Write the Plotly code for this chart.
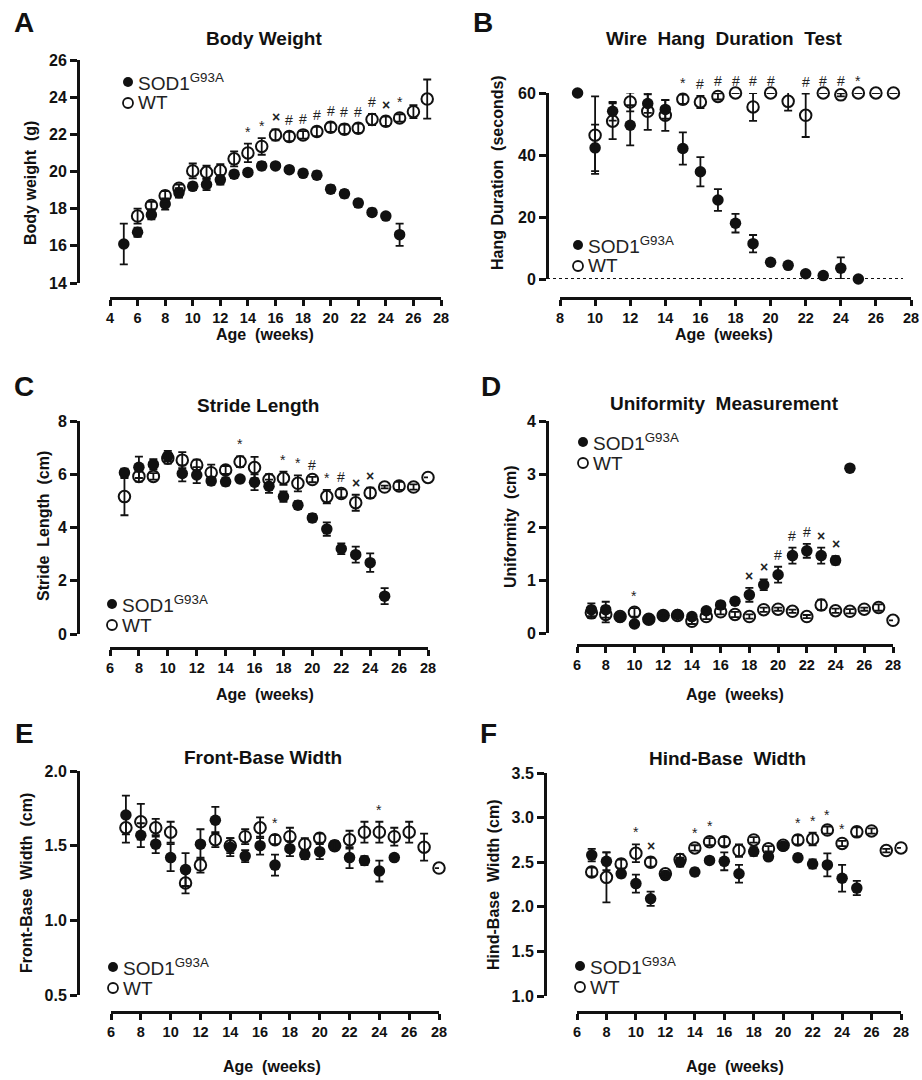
import plotly.graph_objects as go

W, H = 922, 1080
FONT = "Liberation Sans"

# ---------------- DATA ----------------
# Panel A: Body weight (g)
A_sod_x = list(range(5, 26))
A_sod_y = [16.1, 16.73, 17.67, 18.25, 18.85, 19.2, 19.3, 19.55, 19.85, 19.95, 20.3, 20.3, 20.1, 19.9, 19.8, 19.05, 18.8, 18.3, 17.8, 17.6, 16.6]
A_sod_e = [1.1, 0.25, 0.25, 0.3, 0.25, 0.2, 0.3, 0.25, 0.2, 0.15, 0.2, 0.15, 0.15, 0.2, 0.2, 0.2, 0.2, 0.2, 0.2, 0.1, 0.6]
A_wt_x = list(range(6, 28))
A_wt_y = [17.6, 18.17, 18.7, 19.1, 20.03, 19.96, 20.05, 20.68, 21.0, 21.35, 21.97, 21.88, 21.97, 22.15, 22.38, 22.28, 22.33, 22.8, 22.7, 22.88, 23.22, 23.9]
A_wt_e = [0.4, 0.2, 0.25, 0.2, 0.4, 0.35, 0.35, 0.4, 0.5, 0.45, 0.3, 0.25, 0.2, 0.25, 0.25, 0.25, 0.25, 0.3, 0.25, 0.2, 0.35, 1.05]
A_sig_x = [14, 15, 16, 17, 18, 19, 20, 21, 22, 23, 24, 25]
A_sig_t = ["*", "*", "×", "#", "#", "#", "#", "#", "#", "#", "×", "*"]

# Panel B: Wire hang duration (seconds)
B_sod_x = list(range(9, 26))
B_sod_y = [60, 42.3, 54.1, 49.6, 56.6, 54.7, 42.1, 34.6, 25.5, 18, 11.4, 5.4, 4.4, 1.7, 1.1, 3.5, 0]
B_sod_e = [0, 7.5, 3, 6.5, 3, 3, 5.2, 4.7, 3.5, 3, 2.8, 0.8, 0.8, 0.8, 0.5, 3.5, 0]
B_wt_x = list(range(10, 28))
B_wt_y = [46.4, 50.9, 57.1, 54.1, 52.8, 58, 57.1, 58.9, 60, 55.5, 60, 57.3, 52.8, 60, 59.4, 60, 60, 60]
B_wt_e = [12.5, 5.8, 3, 6, 5, 1.5, 2, 1, 0, 4.5, 0, 3, 7, 0, 0.5, 0, 0, 0]
B_sig_x = [15, 16, 17, 18, 19, 20, 21, 22, 23, 24, 25]
B_sig_t = ["*", "#", "#", "#", "#", "#", "#", "#", "#", "#", "*"]

# Panel C: Stride length (cm)
C_sod_x = list(range(7, 26))
C_sod_y = [6.06, 6.26, 6.37, 6.68, 6.03, 5.97, 5.75, 5.72, 5.82, 5.7, 5.55, 5.16, 4.84, 4.36, 3.94, 3.2, 2.98, 2.68, 1.42]
C_sod_e = [0.15, 0.4, 0.2, 0.2, 0.3, 0.3, 0.15, 0.15, 0.12, 0.3, 0.25, 0.2, 0.15, 0.15, 0.25, 0.2, 0.3, 0.35, 0.3]
C_wt_x = list(range(7, 29))
C_wt_y = [5.16, 5.92, 5.92, 6.6, 6.53, 6.35, 6.06, 6.16, 6.47, 6.25, 5.8, 5.85, 5.66, 5.8, 5.16, 5.28, 4.93, 5.3, 5.52, 5.56, 5.52, 5.88]
C_wt_e = [0.7, 0.2, 0.12, 0.2, 0.3, 0.2, 0.3, 0.15, 0.2, 0.4, 0.2, 0.25, 0.3, 0.1, 0.25, 0.15, 0.3, 0.2, 0.05, 0.15, 0.1, 0.0]
C_sig_x = [15, 18, 19, 20, 21, 22, 23, 24]
C_sig_t = ["*", "*", "*", "#", "*", "#", "×", "×"]

# Panel D: Uniformity (cm)
D_sod_x = list(range(7, 26))
D_sod_y = [0.44, 0.44, 0.3, 0.17, 0.26, 0.33, 0.35, 0.31, 0.42, 0.53, 0.6, 0.72, 0.91, 1.1, 1.46, 1.55, 1.46, 1.37, 3.11]
D_sod_e = [0.12, 0.15, 0.03, 0.05, 0.03, 0.03, 0.03, 0.05, 0.05, 0.06, 0.06, 0.13, 0.1, 0.15, 0.15, 0.13, 0.15, 0.08, 0]
D_wt_x = list(range(7, 29))
D_wt_y = [0.38, 0.35, 0.31, 0.39, 0.26, 0.33, 0.33, 0.22, 0.31, 0.4, 0.35, 0.31, 0.44, 0.45, 0.41, 0.31, 0.53, 0.42, 0.41, 0.45, 0.48, 0.24]
D_wt_e = [0.1, 0.15, 0.03, 0.08, 0.03, 0.03, 0.03, 0.05, 0.05, 0.05, 0.05, 0.04, 0.04, 0.03, 0.03, 0.03, 0.1, 0.04, 0.04, 0.03, 0.06, 0.0]
D_sig_x = [10, 18, 19, 20, 21, 22, 23, 24]
D_sig_t = ["*", "×", "×", "#", "#", "#", "×", "×"]

# Panel E: Front-base width (cm)
E_sod_x = list(range(7, 26))
E_sod_y = [1.705, 1.57, 1.51, 1.42, 1.34, 1.51, 1.67, 1.49, 1.43, 1.5, 1.37, 1.48, 1.44, 1.46, 1.5, 1.42, 1.4, 1.33, 1.42]
E_sod_e = [0.13, 0.08, 0.06, 0.09, 0.11, 0.1, 0.09, 0.06, 0.04, 0.06, 0.07, 0.05, 0.03, 0.05, 0.03, 0.07, 0.03, 0.07, 0.0]
E_wt_x = list(range(7, 29))
E_wt_y = [1.62, 1.66, 1.62, 1.59, 1.25, 1.37, 1.54, 1.5, 1.56, 1.62, 1.54, 1.56, 1.51, 1.55, 1.5, 1.54, 1.59, 1.59, 1.56, 1.59, 1.49, 1.35]
E_wt_e = [0.1, 0.12, 0.06, 0.07, 0.07, 0.05, 0.05, 0.05, 0.05, 0.07, 0.03, 0.06, 0.04, 0.03, 0.03, 0.06, 0.07, 0.07, 0.06, 0.07, 0.09, 0.0]
E_sig_x = [17, 24]
E_sig_t = ["*", "*"]

# Panel F: Hind-base width (cm)
F_sod_x = list(range(7, 26))
F_sod_y = [2.58, 2.51, 2.37, 2.26, 2.09, 2.35, 2.5, 2.39, 2.52, 2.51, 2.37, 2.62, 2.56, 2.68, 2.55, 2.48, 2.47, 2.32, 2.21]
F_sod_e = [0.07, 0.1, 0.04, 0.1, 0.08, 0.04, 0.05, 0.04, 0.03, 0.1, 0.1, 0.05, 0.03, 0.04, 0.04, 0.05, 0.13, 0.15, 0.08]
F_wt_x = list(range(7, 29))
F_wt_y = [2.39, 2.33, 2.48, 2.6, 2.5, 2.37, 2.53, 2.66, 2.73, 2.73, 2.63, 2.75, 2.65, 2.69, 2.75, 2.76, 2.86, 2.71, 2.84, 2.85, 2.63, 2.66]
F_wt_e = [0.05, 0.28, 0.05, 0.1, 0.05, 0.03, 0.06, 0.03, 0.04, 0.05, 0.07, 0.03, 0.03, 0.03, 0.05, 0.07, 0.04, 0.03, 0.05, 0.03, 0.02, 0.0]
F_sig_x = [10, 11, 14, 15, 21, 22, 23, 24]
F_sig_t = ["*", "×", "*", "*", "*", "*", "*", "*"]

# ---------------- LAYOUT CONFIG (pixel positions) ----------------
XAX_SHIFT = 10  # free x axes are drawn a little below their nominal position

def PX(x):
    return x / W

def PY(y):
    return 1 - y / H

panels = [
    dict(letter="A", title="Body Weight", ytitle="Body weight\u00a0 (g)",
         sod=(A_sod_x, A_sod_y, A_sod_e), wt=(A_wt_x, A_wt_y, A_wt_e), sig=(A_sig_x, A_sig_t),
         yax_x=78, ytop=60, ybot=283, yrange=[14, 26], yticks=[14, 16, 18, 20, 22, 24, 26], yfmt="",
         xl=110, xr=441, xax_y=308, xrange=[4, 28], xticks=list(range(4, 29, 2)),
         title_xy=(264, 38), letter_xy=(24, 22), ytitle_xy=(30, 183), xtitle_xy=(265, 334),
         leg_xy=(128, 82)),
    dict(letter="B", title="Wire\u00a0 Hang\u00a0 Duration\u00a0 Test", ytitle="Hang Duration\u00a0 (seconds)",
         sod=(B_sod_x, B_sod_y, B_sod_e), wt=(B_wt_x, B_wt_y, B_wt_e), sig=(B_sig_x, B_sig_t),
         yax_x=547, ytop=93, ybot=279, yrange=[0, 60], yticks=[0, 20, 40, 60], yfmt="",
         xl=560, xr=911, xax_y=308, xrange=[8, 28], xticks=list(range(8, 29, 2)),
         title_xy=(724, 38), letter_xy=(483, 22), ytitle_xy=(498, 172), xtitle_xy=(724, 334),
         leg_xy=(578, 245)),
    dict(letter="C", title="Stride Length", ytitle="Stride\u00a0 Length\u00a0 (cm)",
         sod=(C_sod_x, C_sod_y, C_sod_e), wt=(C_wt_x, C_wt_y, C_wt_e), sig=(C_sig_x, C_sig_t),
         yax_x=78, ytop=421, ybot=634, yrange=[0, 8], yticks=[0, 2, 4, 6, 8], yfmt="",
         xl=110, xr=428, xax_y=658, xrange=[6, 28], xticks=list(range(6, 29, 2)),
         title_xy=(258, 405), letter_xy=(24, 386), ytitle_xy=(43, 526), xtitle_xy=(265, 694),
         leg_xy=(112, 604)),
    dict(letter="D", title="Uniformity\u00a0 Measurement", ytitle="Uniformity\u00a0 (cm)",
         sod=(D_sod_x, D_sod_y, D_sod_e), wt=(D_wt_x, D_wt_y, D_wt_e), sig=(D_sig_x, D_sig_t),
         yax_x=547, ytop=421, ybot=633, yrange=[0, 4], yticks=[0, 1, 2, 3, 4], yfmt="",
         xl=577, xr=893, xax_y=655, xrange=[6, 28], xticks=list(range(6, 29, 2)),
         title_xy=(724, 403), letter_xy=(491, 386), ytitle_xy=(510, 527), xtitle_xy=(735, 694),
         leg_xy=(583, 442)),
    dict(letter="E", title="Front-Base Width", ytitle="Front-Base\u00a0 Width\u00a0 (cm)",
         sod=(E_sod_x, E_sod_y, E_sod_e), wt=(E_wt_x, E_wt_y, E_wt_e), sig=(E_sig_x, E_sig_t),
         yax_x=78, ytop=771, ybot=995, yrange=[0.5, 2.0], yticks=[0.5, 1.0, 1.5, 2.0], yfmt=".1f",
         xl=111, xr=439, xax_y=1022, xrange=[6, 28], xticks=list(range(6, 29, 2)),
         title_xy=(263, 757), letter_xy=(24, 733), ytitle_xy=(27, 883), xtitle_xy=(272, 1066),
         leg_xy=(113, 967)),
    dict(letter="F", title="Hind-Base\u00a0 Width", ytitle="Hind-Base\u00a0 Width (cm)",
         sod=(F_sod_x, F_sod_y, F_sod_e), wt=(F_wt_x, F_wt_y, F_wt_e), sig=(F_sig_x, F_sig_t),
         yax_x=545, ytop=773, ybot=996, yrange=[1.0, 3.5], yticks=[1.0, 1.5, 2.0, 2.5, 3.0, 3.5], yfmt=".1f",
         xl=577, xr=901, xax_y=1022, xrange=[6, 28], xticks=list(range(6, 29, 2)),
         title_xy=(727, 758), letter_xy=(488, 733), ytitle_xy=(493, 885), xtitle_xy=(735, 1066),
         leg_xy=(580, 966)),
]

fig = go.Figure()
layout = dict(
    template="none",
    width=W, height=H, margin=dict(l=0, r=0, t=0, b=0, pad=0, autoexpand=False),
    paper_bgcolor="white", plot_bgcolor="rgba(0,0,0,0)", showlegend=False,
    font=dict(family=FONT, color="#111"),
)
annotations = []
shapes = []

for i, p in enumerate(panels, start=1):
    xa = "xaxis" if i == 1 else f"xaxis{i}"
    ya = "yaxis" if i == 1 else f"yaxis{i}"
    xr_ = "x" if i == 1 else f"x{i}"
    yr_ = "y" if i == 1 else f"y{i}"

    layout[xa] = dict(
        domain=[PX(p["xl"]), PX(p["xr"])], anchor="free", position=PY(p["xax_y"] - XAX_SHIFT),
        range=p["xrange"], tickmode="array", tickvals=p["xticks"], automargin=False,
        showline=True, linecolor="#111", linewidth=3, ticks="outside", ticklen=6,
        tickwidth=2.5, tickcolor="#111", showgrid=False, zeroline=False,
        tickfont=dict(family=FONT, size=14.5, color="#111", weight="bold"),
    )
    layout[ya] = dict(
        domain=[PY(p["ybot"]), PY(p["ytop"])], anchor="free", position=PX(p["yax_x"]),
        range=p["yrange"], tickmode="array", tickvals=p["yticks"], tickformat=p["yfmt"],
        automargin=False,
        showline=True, linecolor="#111", linewidth=3, ticks="outside", ticklen=7,
        tickwidth=2.5, tickcolor="#111", showgrid=False, zeroline=False,
        tickfont=dict(family=FONT, size=16, color="#111", weight="bold"),
    )

    sx, sy, se = p["sod"]
    wx, wy, we = p["wt"]

    if p["letter"] == "B":
        shapes.append(dict(type="line", xref="paper", yref=yr_, x0=PX(p["yax_x"]), x1=PX(903),
                           y0=0, y1=0, line=dict(color="#111", width=2.2, dash="dot"), layer="below"))

    fig.add_trace(go.Scatter(
        x=sx, y=sy, mode="markers", xaxis=xr_, yaxis=yr_, cliponaxis=False,
        marker=dict(symbol="circle", size=11.5, color="#111", line=dict(width=0)),
        error_y=dict(type="data", array=se, color="#111", thickness=1.8, width=4),
        name="SOD1 G93A",
    ))
    fig.add_trace(go.Scatter(
        x=wx, y=wy, mode="markers", xaxis=xr_, yaxis=yr_, cliponaxis=False,
        marker=dict(symbol="circle-open", size=11.5, color="#111", line=dict(width=2, color="#111")),
        error_y=dict(type="data", array=we, color="#111", thickness=1.8, width=4),
        name="WT",
    ))

    # significance markers above the highest error bar at that age
    sig_x, sig_t = p["sig"]
    for x, t in zip(sig_x, sig_t):
        tops = []
        if x in sx:
            k = sx.index(x)
            tops.append(sy[k] + se[k])
        if x in wx:
            k = wx.index(x)
            tops.append(wy[k] + we[k])
        annotations.append(dict(
            x=x, y=max(tops), xref=xr_, yref=yr_, text=t, showarrow=False,
            yanchor="bottom", yshift=2,
            font=dict(family=FONT, size=14, color="#222",
                      weight="bold" if t == "×" else "normal"),
        ))

    # panel letter, title, axis titles
    lx, ly = p["letter_xy"]
    annotations.append(dict(x=PX(lx), y=PY(ly), xref="paper", yref="paper", text=p["letter"],
                            showarrow=False, xanchor="center", yanchor="middle",
                            font=dict(family=FONT, size=28, color="#111", weight="bold")))
    tx, ty = p["title_xy"]
    annotations.append(dict(x=PX(tx), y=PY(ty), xref="paper", yref="paper", text=p["title"],
                            showarrow=False, xanchor="center", yanchor="middle",
                            font=dict(family=FONT, size=19, color="#111", weight="bold")))
    yx, yy = p["ytitle_xy"]
    annotations.append(dict(x=PX(yx), y=PY(yy), xref="paper", yref="paper", text=p["ytitle"],
                            showarrow=False, xanchor="center", yanchor="middle", textangle=-90,
                            font=dict(family=FONT, size=16, color="#111", weight="bold")))
    ax, ay = p["xtitle_xy"]
    annotations.append(dict(x=PX(ax), y=PY(ay), xref="paper", yref="paper", text="Age\u00a0 (weeks)",
                            showarrow=False, xanchor="center", yanchor="middle",
                            font=dict(family=FONT, size=16, color="#111", weight="bold")))

    # in-plot legend
    gx, gy = p["leg_xy"]
    for j, (label, filled) in enumerate([("SOD1<sup>G93A</sup>", True), ("WT", False)]):
        cy = gy + 21 * j
        shapes.append(dict(type="circle", xref="paper", yref="paper",
                           xsizemode="pixel", ysizemode="pixel",
                           xanchor=PX(gx), yanchor=PY(cy), x0=-5, x1=5, y0=-5, y1=5,
                           fillcolor="#111" if filled else "white",
                           line=dict(color="#111", width=0 if filled else 1.8)))
        annotations.append(dict(x=PX(gx + 8), y=PY(cy), xref="paper", yref="paper", text=label,
                                showarrow=False, xanchor="left", yanchor="middle",
                                font=dict(family=FONT, size=19, color="#222")))

layout["annotations"] = annotations
layout["shapes"] = shapes
fig.update_layout(**layout)
fig.write_html(
    "out.html",
    config={"displayModeBar": False},
    post_script="document.body.style.margin='0';document.body.style.overflow='hidden';",
)
